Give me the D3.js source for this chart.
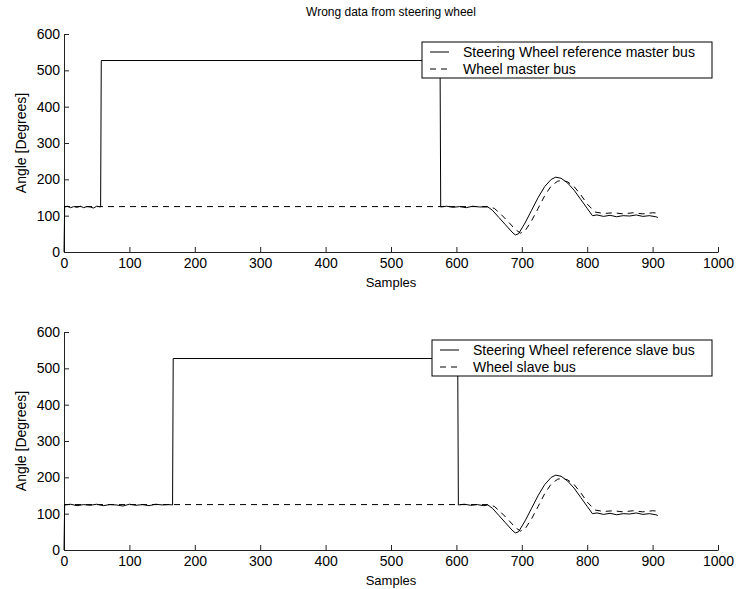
<!DOCTYPE html>
<html>
<head>
<meta charset="utf-8">
<script src="https://cdn.jsdelivr.net/npm/d3@7"></script>
<style>
  body { margin: 0; background: #fff; }
  text { font-family: "Liberation Sans", Arial, sans-serif; fill: #000; }
</style>
</head>
<body>
<div id="chart"></div>
<script>
// data: [sample, angle]
const masterRef = [
  [0,0],[1,124],[5,126],[10,122],[15,125],[20,123],[25,126],[30,122],[35,125],[40,124],
  [45,121],[50,126],[56,124],[57,527],[575,527],[576,124],[585,126],[595,123],[605,125],
  [615,122],[625,126],[635,124],[648,124],[655,115],[665,95],[675,75],[685,55],[690,47],
  [695,50],[705,80],[715,115],[725,150],[735,180],[745,200],[752,206],[760,203],[770,190],
  [780,170],[790,145],[800,120],[808,100],[815,102],[825,98],[835,101],[845,97],[855,100],
  [865,99],[875,102],[885,98],[895,100],[905,97],[908,95]
];
const masterWheel = [
  [0,125],[648,125],[658,120],[668,104],[680,82],[690,62],[698,52],[705,58],[715,86],
  [725,120],[735,155],[745,182],[755,195],[762,197],[770,193],[780,180],[790,158],
  [800,132],[812,110],[825,106],[840,108],[855,105],[870,108],[885,105],[900,108],[908,107]
];
const slaveRef = [
  [0,0],[1,124],[10,126],[20,122],[30,125],[40,123],[50,126],[60,122],[70,125],[80,124],
  [90,121],[100,126],[110,123],[120,125],[130,122],[140,126],[150,124],[160,125],[166,124],
  [167,527],[602,527],[603,124],[612,126],[622,123],[632,125],[642,122],[648,124],
  [655,115],[665,95],[675,75],[685,55],[690,47],[695,50],[705,80],[715,115],[725,150],
  [735,180],[745,200],[752,206],[760,203],[770,190],[780,170],[790,145],[800,120],
  [808,100],[815,102],[825,98],[835,101],[845,97],[855,100],[865,99],[875,102],[885,98],
  [895,100],[905,97],[908,95]
];
const slaveWheel = [
  [0,125],[648,125],[658,120],[668,104],[680,82],[690,62],[698,52],[705,58],[715,86],
  [725,120],[735,155],[745,182],[755,195],[762,197],[770,193],[780,180],[790,158],
  [800,132],[812,110],[825,106],[840,108],[855,105],[870,108],[885,105],[900,108],[908,107]
];
const xTicks = [0,100,200,300,400,500,600,700,800,900,1000];
const yTicks = [0,100,200,300,400,500,600];

const width = 736, height = 589;
const svg = d3.select("#chart").append("svg")
  .attr("width", width).attr("height", height);

svg.append("text")
  .attr("x", 391).attr("y", 16)
  .attr("text-anchor", "middle")
  .attr("font-size", "12px")
  .text("Wrong data from steering wheel");

const x = d3.scaleLinear().domain([0,1000]).range([64,718]);

function panel(top, bottom, ref, wheel, labels, box) {
  const y = d3.scaleLinear().domain([0,600]).range([bottom, top]);

  // x axis, ticks pointing inwards
  const gx = svg.append("g")
    .attr("transform", `translate(0,${bottom})`)
    .call(d3.axisBottom(x).tickValues(xTicks).tickFormat(d3.format("d"))
      .tickSizeInner(-5).tickSizeOuter(0).tickPadding(6));
  // y axis
  const gy = svg.append("g")
    .attr("transform", `translate(64,0)`)
    .call(d3.axisLeft(y).tickValues(yTicks).tickFormat(d3.format("d"))
      .tickSizeInner(-5).tickSizeOuter(0).tickPadding(4));
  [gx, gy].forEach(g => {
    g.attr("font-family", null).attr("font-size", null);
    g.selectAll("text").attr("font-size", "14px");
    g.select(".domain").attr("stroke", "#222");
    g.selectAll(".tick line").attr("stroke", "#222");
  });

  svg.append("text")
    .attr("x", 391).attr("y", bottom + 35)
    .attr("text-anchor", "middle").attr("font-size", "13px")
    .text("Samples");
  svg.append("text")
    .attr("transform", `translate(26,${(top + bottom) / 2}) rotate(-90)`)
    .attr("text-anchor", "middle").attr("font-size", "14px")
    .text("Angle [Degrees]");

  const line = d3.line().x(d => x(d[0])).y(d => y(d[1]));
  svg.append("path").datum(wheel)
    .attr("d", line).attr("fill", "none")
    .attr("stroke", "#000").attr("stroke-width", 1)
    .attr("stroke-dasharray", "6,5");
  svg.append("path").datum(ref)
    .attr("d", line).attr("fill", "none")
    .attr("stroke", "#000").attr("stroke-width", 1);

  // legend
  const lg = svg.append("g");
  lg.append("rect")
    .attr("x", box.x).attr("y", box.y).attr("width", 712 - box.x).attr("height", 36)
    .attr("fill", "#fff").attr("stroke", "#000").attr("stroke-width", 1);
  labels.forEach((t, i) => {
    const ly = box.y + 10 + i * 17;
    lg.append("line")
      .attr("x1", box.x + 8).attr("x2", box.x + 27)
      .attr("y1", ly).attr("y2", ly)
      .attr("stroke", "#000")
      .attr("stroke-dasharray", i ? "6,5" : null);
    lg.append("text")
      .attr("x", box.x + 41).attr("y", ly + 5)
      .attr("font-size", "14px")
      .text(t);
  });
}

panel(34, 252, masterRef, masterWheel,
  ["Steering Wheel reference master bus", "Wheel master bus"], {x: 422, y: 42});
panel(332, 550, slaveRef, slaveWheel,
  ["Steering Wheel reference slave bus", "Wheel slave bus"], {x: 432, y: 340});
</script>
</body>
</html>
